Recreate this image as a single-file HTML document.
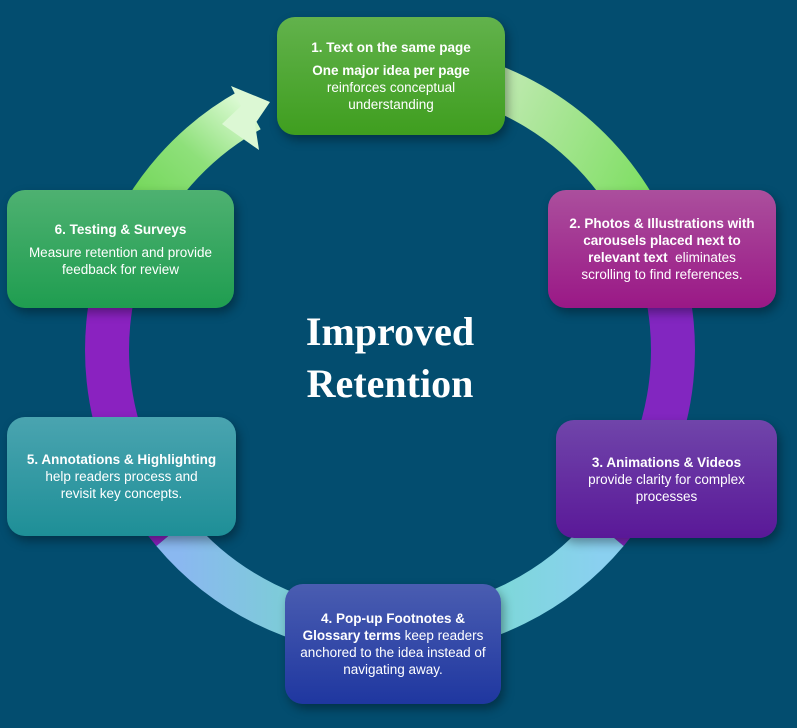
<!DOCTYPE html>
<html><head><meta charset="utf-8"><style>
html,body{margin:0;padding:0}
body{width:797px;height:728px;background:#034d6f;position:relative;overflow:hidden;font-family:"Liberation Sans",sans-serif}
svg{position:absolute;left:0;top:0}
.b{position:absolute;border-radius:18px;color:#fff;text-align:center;font-size:13.5px;line-height:17px;display:flex;flex-direction:column;justify-content:center;box-sizing:border-box;padding:0 12px;box-shadow:3px 5px 10px rgba(0,0,0,.35)}
.b b{font-weight:bold}
.t{position:absolute;left:240px;top:306px;width:300px;text-align:center;color:#fff;font-family:"Liberation Serif",serif;font-weight:bold;font-size:40px;line-height:52px}
</style></head><body>
<svg width="797" height="728" viewBox="0 0 797 728">
<defs>
<linearGradient id="gA" x1="300" y1="70" x2="660" y2="260" gradientUnits="userSpaceOnUse"><stop offset="0" stop-color="#f4fff0"/><stop offset=".5" stop-color="#b8e8a8"/><stop offset="1" stop-color="#6fdc50"/></linearGradient>
<linearGradient id="gE" x1="120" y1="260" x2="260" y2="100" gradientUnits="userSpaceOnUse"><stop offset="0" stop-color="#5fd040"/><stop offset=".6" stop-color="#8ee07a"/><stop offset="1" stop-color="#eaffe4"/></linearGradient>
<linearGradient id="gC" x1="600" y1="530" x2="180" y2="530" gradientUnits="userSpaceOnUse"><stop offset="0" stop-color="#8ad0f0"/><stop offset=".5" stop-color="#70e0c0"/><stop offset="1" stop-color="#8ab8f0"/></linearGradient>
</defs>
<g fill="none" stroke-width="44">
<path d="M340.9 71.3 A283 283 0 0 1 655.9 253.2" stroke="url(#gA)"/>
<path d="M655.9 253.2 A283 283 0 0 1 606.8 531.9" stroke="#8226c0"/>
<path d="M606.8 531.9 A283 283 0 0 1 173.2 531.9" stroke="url(#gC)"/>
<path d="M173.2 531.9 A283 283 0 0 1 124.1 253.2" stroke="#8a22c0"/>
<path d="M124.1 253.2 A283 283 0 0 1 250 110" stroke="url(#gE)"/>
</g>
<polygon points="270,102 231,86 241,106 222,124 259,150 255,124" fill="#dcf8d4"/>
</svg>
<div class="t">Improved<br>Retention</div>
<div class="b" style="left:277px;top:17px;width:228px;height:118px;background:linear-gradient(#62b24c,#3f9e1f)"><b>1. Text on the same page</b><div style="height:6px"></div><b>One major idea per page</b>reinforces conceptual<br>understanding</div>
<div class="b" style="left:548px;top:190px;width:228px;height:118px;background:linear-gradient(#ab4f9d,#9a1886)"><span><b>2. Photos &amp; Illustrations with<br>carousels placed next to<br>relevant text</b>&nbsp; eliminates<br>scrolling to find references.</span></div>
<div class="b" style="left:556px;top:420px;width:221px;height:118px;background:linear-gradient(#7045aa,#5a1898)"><b>3. Animations &amp; Videos</b>provide clarity for complex<br>processes</div>
<div class="b" style="left:285px;top:584px;width:216px;height:120px;background:linear-gradient(#4a5db1,#1f37a0)"><span><b>4. Pop-up Footnotes &amp;<br>Glossary terms</b> keep readers<br>anchored to the idea instead of<br>navigating away.</span></div>
<div class="b" style="left:7px;top:417px;width:229px;height:119px;background:linear-gradient(#4aa4b0,#1e8f97)"><b>5. Annotations &amp; Highlighting</b>help readers process and<br>revisit key concepts.</div>
<div class="b" style="left:7px;top:190px;width:227px;height:118px;background:linear-gradient(#4eb171,#1f9d50)"><b>6. Testing &amp; Surveys</b><div style="height:6px"></div>Measure retention and provide<br>feedback for review</div>
</body></html>
